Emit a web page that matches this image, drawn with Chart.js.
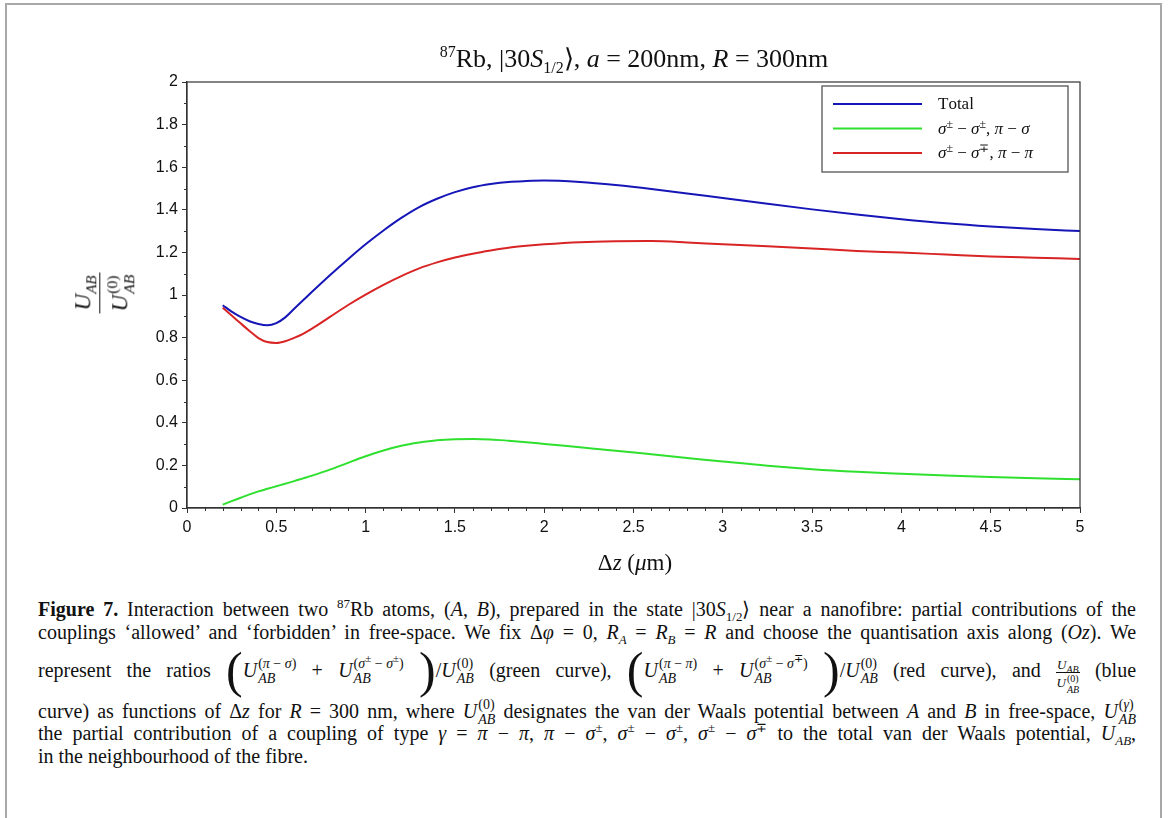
<!DOCTYPE html>
<html>
<head>
<meta charset="utf-8">
<script src="https://cdn.jsdelivr.net/npm/chart.js@4.4.0/dist/chart.umd.min.js"></script>
<style>
  body { margin: 0; background: #fff; width: 1170px; height: 818px; overflow: hidden; position: relative; color: #111; }
  #frame { position: absolute; left: 5px; top: 3px; width: 1153px; height: 840px; border: 2px solid #a8a8a8; border-bottom: none; }
  #chart { position: absolute; left: 0; top: 0; }
  .serif { font-family: "Liberation Serif", "Times New Roman", serif; }
  #title { position: absolute; left: 634px; top: 37px; transform: translateX(-50%); font-size: 26px; line-height: 30px; white-space: nowrap; }
  #title sup, #title sub { font-size: 16px; }
  #xlab { position: absolute; left: 635px; top: 550px; transform: translateX(-50%); font-size: 23px; line-height: 26px; white-space: nowrap; }
  #ylab { position: absolute; left: 104px; top: 293px; transform: translate(-50%, -50%) rotate(-90deg); font-size: 23px; display: inline-flex; flex-direction: column; align-items: center; line-height: 26px; white-space: nowrap; }
  #ylab .num { padding: 0 3px 3px; border-bottom: 1.3px solid #111; }
  #ylab .num sub { font-size: 15px; line-height: 0; }
  #ylab .den { padding-top: 3px; }
  .st { display: inline-flex; flex-direction: column; font-size: 0.68em; line-height: 1.1; vertical-align: 0.65em; margin-left: 1px; text-align: left; }
  .st sup { font-size: 0.75em; line-height: 0; }
  .ln { position: absolute; left: 38px; width: 1098px; font-size: 20px; line-height: 22px; text-align: justify; text-align-last: justify; }
  .ln sup { font-size: 13px; line-height: 0; }
  .ln sub { font-size: 13px; line-height: 0; }
  .ln .st { font-size: 14px; }
  .ln .st sup { font-size: 11px; }
  .bp { font-size: 50px; line-height: 0; vertical-align: -10px; font-weight: normal; }
  .fr { display: inline-flex; flex-direction: column; align-items: center; font-size: 13px; line-height: 13px; vertical-align: 8px; }
  .fr .n { border-bottom: 1px solid #111; padding: 0 1px 1px; }
  .fr .st { font-size: 10px; vertical-align: 0.5em; }
  .fr sub { font-size: 10px; }
</style>
</head>
<body>
<div id="frame"></div>
<canvas id="chart" width="1170" height="580"></canvas>

<div id="title" class="serif"><sup>87</sup>Rb, |30<i>S</i><sub>1/2</sub>⟩, <i>a</i> = 200nm, <i>R</i> = 300nm</div>
<div id="ylab" class="serif">
  <span class="num"><i>U<sub>AB</sub></i></span>
  <span class="den"><i>U</i><span class="st"><span>(0)</span><i>AB</i></span></span>
</div>
<div id="xlab" class="serif">Δ<i>z</i> (<i>μ</i>m)</div>

<div class="ln serif" style="top:598px"><b>Figure 7.</b> Interaction between two <sup>87</sup>Rb atoms, (<i>A</i>, <i>B</i>), prepared in the state |30<i>S</i><sub>1/2</sub>⟩ near a nanofibre: partial contributions of the</div>
<div class="ln serif" style="top:621px">couplings ‘allowed’ and ‘forbidden’ in free-space. We fix Δ<i>φ</i> = 0, <i>R<sub>A</sub></i> = <i>R<sub>B</sub></i> = <i>R</i> and choose the quantisation axis along (<i>Oz</i>). We</div>
<div class="ln serif" style="top:656px">represent the ratios <span class="bp">(</span><i>U</i><span class="st"><span>(<i>π</i> − <i>σ</i>)</span><i>AB</i></span> + <i>U</i><span class="st"><span>(<i>σ</i><sup>±</sup> − <i>σ</i><sup>±</sup>)</span><i>AB</i></span> <span class="bp">)</span>/<i>U</i><span class="st"><span>(0)</span><i>AB</i></span> (green curve), <span class="bp">(</span><i>U</i><span class="st"><span>(<i>π</i> − <i>π</i>)</span><i>AB</i></span> + <i>U</i><span class="st"><span>(<i>σ</i><sup>±</sup> − <i>σ</i><sup>∓</sup>)</span><i>AB</i></span> <span class="bp">)</span>/<i>U</i><span class="st"><span>(0)</span><i>AB</i></span> (red curve), and <span class="fr"><span class="n"><i>U<sub>AB</sub></i></span><span><i>U</i><span class="st"><span>(0)</span><i>AB</i></span></span></span> (blue</div>
<div class="ln serif" style="top:697px">curve) as functions of Δ<i>z</i> for <i>R</i> = 300 nm, where <i>U</i><span class="st"><span>(0)</span><i>AB</i></span> designates the van der Waals potential between <i>A</i> and <i>B</i> in free-space, <i>U</i><span class="st"><span>(<i>γ</i>)</span><i>AB</i></span></div>
<div class="ln serif" style="top:722px">the partial contribution of a coupling of type <i>γ</i> = <i>π</i> − <i>π</i>, <i>π</i> − <i>σ</i><sup>±</sup>, <i>σ</i><sup>±</sup> − <i>σ</i><sup>±</sup>, <i>σ</i><sup>±</sup> − <i>σ</i><sup>∓</sup> to the total van der Waals potential, <i>U<sub>AB</sub></i>,</div>
<div class="ln serif" style="top:745px; text-align-last:left">in the neighbourhood of the fibre.</div>

<script>
// separation Δz (μm)
const dz = [0.2, 0.25, 0.3, 0.35, 0.4, 0.45, 0.5, 0.55, 0.6, 0.65, 0.7, 0.8, 0.9, 1.0, 1.1, 1.2, 1.3, 1.4, 1.5, 1.6, 1.7, 1.8, 1.9, 2.0,
            2.2, 2.4, 2.6, 2.8, 3.0, 3.25, 3.5, 3.75, 4.0, 4.25, 4.5, 4.75, 5.0];
// U_AB / U_AB^(0)
const total = [0.952, 0.922, 0.897, 0.877, 0.864, 0.858, 0.868, 0.895, 0.935, 0.975, 1.015, 1.093, 1.167, 1.238, 1.303, 1.362, 1.413, 1.452, 1.483, 1.506, 1.521, 1.531, 1.535, 1.537,
               1.530, 1.516, 1.498, 1.477, 1.455, 1.428, 1.402, 1.378, 1.356, 1.337, 1.322, 1.310, 1.300];
// σ±-σ±, π-σ
const allowed = [0.016, 0.032, 0.048, 0.064, 0.078, 0.090, 0.102, 0.114, 0.126, 0.139, 0.152, 0.180, 0.212, 0.243, 0.270, 0.292, 0.307, 0.318, 0.323, 0.324, 0.322, 0.316, 0.309, 0.301,
                 0.285, 0.269, 0.252, 0.235, 0.218, 0.198, 0.182, 0.170, 0.161, 0.153, 0.146, 0.140, 0.135];
// σ±-σ∓, π-π
const forbidden = [0.940, 0.904, 0.867, 0.831, 0.798, 0.779, 0.775, 0.783, 0.799, 0.818, 0.842, 0.897, 0.952, 1.002, 1.048, 1.089, 1.125, 1.153, 1.176, 1.194, 1.209, 1.222, 1.231, 1.238,
                   1.248, 1.252, 1.253, 1.247, 1.238, 1.229, 1.218, 1.207, 1.199, 1.190, 1.181, 1.175, 1.169];
const seriesLabels = ['Total', 'σ± − σ±, π − σ', 'σ± − σ∓, π − π'];
const seriesColors = ['#1616b8', '#2fe02f', '#d82424'];

const pts = ys => dz.map((x, i) => ({ x: x, y: ys[i] }));
const fmt = v => String(+Number(v).toFixed(1));

// box round the plot, minor ticks and the legend
const extras = {
  id: 'extras',
  afterDraw(chart) {
    const ctx = chart.ctx;
    const a = chart.chartArea;
    const xs = chart.scales.x, ys = chart.scales.y;
    ctx.save();
    ctx.strokeStyle = '#333';
    ctx.lineWidth = 1.2;
    ctx.strokeRect(a.left, a.top, a.right - a.left, a.bottom - a.top);

    ctx.lineWidth = 1;
    ctx.beginPath();
    for (let i = 1; i < 50; i++) {
      if (i % 5 === 0) continue;
      const px = Math.round(xs.getPixelForValue(i / 10)) + 0.5;
      ctx.moveTo(px, a.bottom);
      ctx.lineTo(px, a.bottom + 3);
    }
    for (let i = 1; i < 20; i += 2) {
      const py = Math.round(ys.getPixelForValue(i / 10)) + 0.5;
      ctx.moveTo(a.left - 3, py);
      ctx.lineTo(a.left, py);
    }
    ctx.stroke();

    // legend
    const bx = a.right - 258, by = a.top + 4;
    ctx.fillStyle = '#fff';
    ctx.fillRect(bx, by, 246, 86);
    ctx.strokeStyle = '#555';
    ctx.lineWidth = 1.3;
    ctx.strokeRect(bx, by, 246, 86);
    chart.data.datasets.forEach((ds, k) => {
      const ly = by + 18 + k * 24.5;
      ctx.strokeStyle = ds.borderColor;
      ctx.lineWidth = 2;
      ctx.beginPath();
      ctx.moveTo(bx + 11, ly);
      ctx.lineTo(bx + 100, ly);
      ctx.stroke();
      let tx = bx + 116;
      ctx.fillStyle = '#111';
      ctx.textBaseline = 'alphabetic';
      for (const ch of ds.label) {
        if (ch === '±' || ch === '∓') {
          ctx.font = '12px "Liberation Serif"';
          ctx.fillText(ch, tx, ly - 1);
        } else if (ch === 'σ' || ch === 'π') {
          ctx.font = 'italic 17px "Liberation Serif"';
          ctx.fillText(ch, tx, ly + 5);
        } else {
          ctx.font = '17px "Liberation Serif"';
          ctx.fillText(ch, tx, ly + 5);
        }
        tx += ctx.measureText(ch).width;
      }
    });
    ctx.restore();
  }
};

new Chart(document.getElementById('chart'), {
  type: 'line',
  data: {
    datasets: [
      { label: seriesLabels[0], data: pts(total), borderColor: seriesColors[0] },
      { label: seriesLabels[1], data: pts(allowed), borderColor: seriesColors[1] },
      { label: seriesLabels[2], data: pts(forbidden), borderColor: seriesColors[2] }
    ]
  },
  options: {
    responsive: false,
    animation: false,
    devicePixelRatio: 1,
    layout: { padding: { left: 100, right: 90, top: 82, bottom: 0 } },
    elements: {
      point: { radius: 0 },
      line: { borderWidth: 2, cubicInterpolationMode: 'monotone', fill: false }
    },
    plugins: { legend: { display: false }, tooltip: { enabled: false } },
    scales: {
      x: {
        type: 'linear', min: 0, max: 5,
        afterFit: s => { s.height = 72; },
        ticks: { stepSize: 0.5, maxRotation: 0, padding: 5, color: '#111',
                 font: { family: 'Liberation Sans', size: 16 }, callback: fmt },
        grid: { drawOnChartArea: false, drawTicks: true, tickLength: 5, color: '#333' },
        border: { color: '#333', width: 1.2 }
      },
      y: {
        min: 0, max: 2,
        afterFit: s => { s.width = 87; },
        ticks: { stepSize: 0.2, padding: 4, color: '#111',
                 font: { family: 'Liberation Sans', size: 16 }, callback: fmt },
        grid: { drawOnChartArea: false, drawTicks: true, tickLength: 5, color: '#333' },
        border: { color: '#333', width: 1.2 }
      }
    }
  },
  plugins: [extras]
});
</script>
</body>
</html>
